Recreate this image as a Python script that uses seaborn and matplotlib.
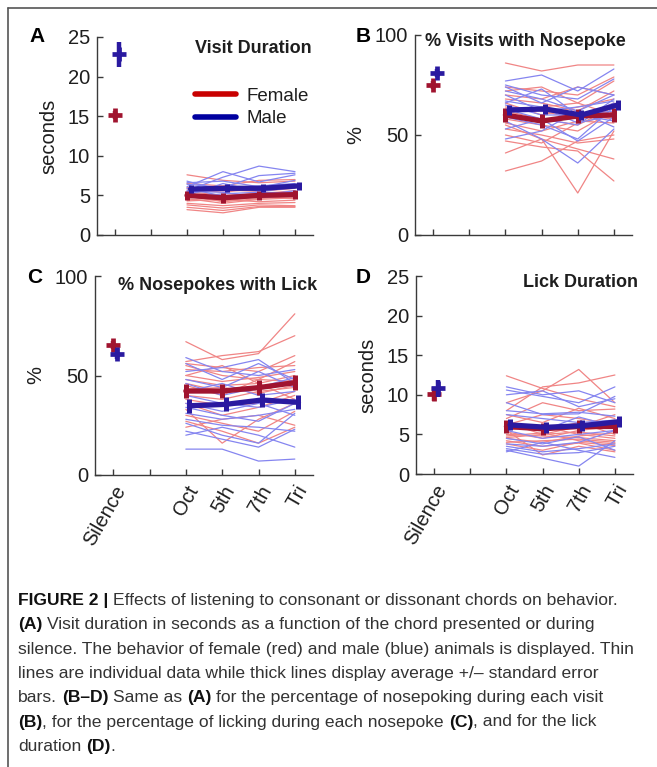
import numpy as np
import pandas as pd
import matplotlib
matplotlib.use("Agg")
import matplotlib.pyplot as plt
import seaborn as sns
from matplotlib.lines import Line2D

# categories on the x axis (position 2 is an empty gap)
x_pos = [1, 2, 3, 4, 5, 6]
x_labels = ["Silence", "", "Oct", "5th", "7th", "Tri"]
chord_x = [3, 4, 5, 6]

# ---- A: visit duration (s)
female_thin_a = [
    [7.6, 6.9, 6.6, 6.8], [6.5, 6.2, 6.9, 7.0], [5.8, 5.4, 5.9, 6.1],
    [5.5, 5.0, 5.2, 5.6], [5.2, 4.6, 5.0, 5.3], [4.9, 4.3, 4.8, 4.6],
    [4.6, 4.0, 4.5, 4.7], [4.3, 4.5, 4.2, 4.4], [4.0, 3.7, 4.0, 4.1],
    [3.8, 3.4, 3.8, 3.7], [3.5, 3.1, 3.6, 3.6], [3.2, 2.8, 3.5, 3.5],
    [6.0, 5.7, 5.5, 5.9], [4.4, 4.8, 5.3, 5.0], [5.0, 4.2, 4.6, 4.9],
]
male_thin_a = [
    [6.1, 8.0, 6.7, 7.6], [5.6, 7.3, 8.7, 8.0], [6.4, 6.0, 7.5, 7.8],
    [5.3, 5.8, 6.2, 6.5], [5.0, 6.5, 5.5, 6.0], [6.8, 5.6, 6.0, 6.9],
    [4.8, 5.2, 5.4, 5.3], [5.9, 4.9, 5.0, 5.6], [5.5, 5.4, 4.7, 5.1],
    [6.6, 6.8, 6.1, 6.4],
]
female_mean_a = [5.0, 4.7, 5.0, 5.1]
female_se_a = [0.6, 0.6, 0.6, 0.6]
male_mean_a = [5.8, 5.9, 5.9, 6.2]
male_se_a = [0.5, 0.5, 0.5, 0.5]
female_sil_a = [15.15, 0.5]
male_sil_a = [22.8, 1.55]

# ---- B: % visits with nosepoke
female_thin_b = [
    [86, 82, 85, 85], [74, 72, 70, 79], [72, 74, 66, 77], [70, 68, 74, 70],
    [68, 66, 62, 72], [66, 60, 64, 68], [64, 62, 58, 66], [62, 58, 55, 64],
    [60, 56, 60, 58], [58, 55, 52, 62], [56, 52, 57, 56], [55, 48, 21, 52],
    [53, 50, 46, 48], [50, 46, 56, 60], [47, 44, 42, 27], [41, 48, 43, 38],
    [32, 37, 47, 50], [62, 64, 66, 60],
]
male_thin_b = [
    [77, 80, 72, 83], [75, 70, 68, 78], [74, 66, 74, 70], [72, 68, 62, 70],
    [70, 62, 64, 67], [67, 64, 58, 66], [65, 60, 60, 62], [63, 58, 55, 68],
    [61, 64, 56, 60], [59, 55, 48, 64], [57, 48, 36, 53], [53, 58, 47, 59],
    [48, 52, 62, 54], [66, 73, 60, 57],
]
female_mean_b = [60, 57, 59.5, 60]
female_se_b = [3.5, 3.5, 3.5, 3.5]
male_mean_b = [62.5, 63, 60, 65]
male_se_b = [2.5, 2.5, 2.5, 2.5]
female_sil_b = [75, 2.0]
male_sil_b = [81, 2.0]

# ---- C: % nosepokes with lick
female_thin_c = [
    [67, 58, 61, 81], [57, 60, 62, 70], [56, 54, 52, 60], [55, 50, 48, 57],
    [53, 52, 54, 55], [50, 47, 49, 52], [48, 45, 46, 50], [46, 42, 44, 48],
    [45, 40, 48, 47], [43, 44, 41, 45], [40, 38, 42, 44], [38, 35, 36, 42],
    [36, 30, 34, 40], [33, 16, 28, 36], [30, 26, 22, 32], [27, 22, 16, 24],
    [24, 28, 30, 25], [50, 55, 46, 38],
]
male_thin_c = [
    [59, 52, 50, 53], [56, 48, 56, 48], [52, 54, 58, 46], [48, 44, 52, 44],
    [46, 40, 44, 49], [42, 46, 40, 42], [40, 36, 34, 38], [36, 32, 36, 30],
    [34, 30, 27, 36], [31, 28, 30, 33], [28, 25, 24, 22], [26, 20, 16, 31],
    [22, 18, 14, 23], [13, 13, 7, 8], [20, 24, 20, 14],
]
female_mean_c = [42.2, 42.2, 43.9, 46.4]
female_se_c = [3.7, 3.7, 3.7, 3.7]
male_mean_c = [34.8, 35.5, 37.7, 36.5]
male_se_c = [3.5, 3.5, 3.5, 3.5]
female_sil_c = [65.3, 2.0]
male_sil_c = [60.8, 2.5]

# ---- D: lick duration (s)
female_thin_d = [
    [12.4, 10.8, 9.5, 8.5], [9.0, 10.5, 13.2, 9.0], [8.0, 11.0, 11.5, 12.5],
    [7.5, 6.5, 8.3, 7.0], [7.0, 9.0, 8.0, 8.2], [6.5, 5.0, 6.0, 7.5],
    [6.0, 5.5, 6.5, 5.0], [5.6, 6.0, 5.0, 4.5], [5.3, 4.5, 5.5, 6.0],
    [5.0, 4.8, 4.6, 4.2], [4.8, 5.2, 4.2, 3.8], [4.5, 4.0, 4.8, 5.2],
    [4.2, 3.5, 3.9, 3.0], [4.0, 4.2, 4.4, 4.0], [3.8, 3.0, 4.0, 3.6],
    [5.5, 2.4, 3.5, 2.8], [4.6, 5.0, 5.3, 4.8], [6.2, 7.5, 7.0, 6.3],
]
male_thin_d = [
    [11.0, 10.0, 10.5, 9.0], [10.6, 9.8, 9.0, 11.0], [10.0, 10.5, 8.5, 9.5],
    [9.0, 7.5, 7.6, 9.8], [8.0, 7.6, 7.8, 7.3], [7.5, 7.0, 6.5, 6.8],
    [6.5, 5.5, 7.2, 6.0], [5.5, 4.5, 5.0, 5.5], [3.8, 3.5, 4.0, 5.5],
    [3.5, 2.8, 3.2, 3.8], [3.2, 2.5, 2.7, 3.5], [3.0, 2.0, 1.0, 4.2],
    [2.8, 4.0, 3.0, 2.1], [4.5, 3.8, 4.7, 3.0],
]
female_mean_d = [6.0, 5.7, 6.0, 6.0]
female_se_d = [0.8, 0.8, 0.8, 0.8]
male_mean_d = [6.2, 5.9, 6.1, 6.6]
male_se_d = [0.7, 0.7, 0.7, 0.7]
female_sil_d = [10.06, 0.9]
male_sil_d = [10.8, 1.05]

THIN_RED = "#f08585"
THIN_BLUE = "#8585f0"
MEAN_RED = "#a0142f"
MEAN_BLUE = "#2a1aa0"
LEG_RED = "#c80000"
LEG_BLUE = "#0000a0"
TXT = "#1e1e1e"

W, H = 657, 767
sns.set_style("ticks")
plt.rcParams["font.family"] = ["Liberation Sans", "DejaVu Sans"]

fig = plt.figure(figsize=(W / 100, H / 100), dpi=100)


def px_axes(left, top, right, bottom):
    return fig.add_axes([left / W, 1 - bottom / H, (right - left) / W, (bottom - top) / H])


def thin_frame(female, male):
    rows = []
    for i, vals in enumerate(female):
        for x, v in zip(chord_x, vals):
            rows.append(("F", "F%d" % i, x, v))
    for i, vals in enumerate(male):
        for x, v in zip(chord_x, vals):
            rows.append(("M", "M%d" % i, x, v))
    return pd.DataFrame(rows, columns=["sex", "animal", "x", "value"])


def panel(ax, female, male, fmean, fse, mmean, mse, fsil, msil, ymax, yticks, ylabel):
    df = thin_frame(female, male)
    sns.lineplot(data=df, x="x", y="value", hue="sex", units="animal", estimator=None,
                 palette={"F": THIN_RED, "M": THIN_BLUE}, hue_order=["F", "M"],
                 linewidth=0.9, legend=False, ax=ax)
    # group means +/- s.e.m., males shifted slightly right
    ax.errorbar(chord_x, fmean, yerr=fse, color=MEAN_RED, lw=3.8, elinewidth=3.6,
                capsize=0, zorder=5)
    ax.errorbar([x + 0.1 for x in chord_x], mmean, yerr=mse, color=MEAN_BLUE, lw=3.8,
                elinewidth=3.6, capsize=0, zorder=6)
    ax.errorbar([1], [fsil[0]], yerr=[fsil[1]], color=MEAN_RED, marker="+", ms=10.5,
                mew=3.4, elinewidth=3.2, capsize=0, ls="none", zorder=5)
    ax.errorbar([1.1], [msil[0]], yerr=[msil[1]], color=MEAN_BLUE, marker="+", ms=10.5,
                mew=3.4, elinewidth=3.2, capsize=0, ls="none", zorder=6)
    ax.set_xlim(0.5, 6.5)
    ax.set_ylim(0, ymax)
    ax.set_yticks(yticks)
    ax.set_xticks(x_pos)
    ax.set_xticklabels(x_labels, rotation=60, ha="right", rotation_mode="anchor")
    ax.set_xlabel("")
    ax.set_ylabel(ylabel, fontsize=14.5, color=TXT, labelpad=7)
    sns.despine(ax=ax)
    for s in ("left", "bottom"):
        ax.spines[s].set_color("#3a3a3a")
        ax.spines[s].set_linewidth(1.0)
    ax.tick_params(direction="in", length=4, width=1, labelsize=14.5, colors="#3a3a3a",
                   labelcolor=TXT, pad=5)


ax_a = px_axes(97, 37, 313, 235)
ax_b = px_axes(415, 35, 632, 235)
ax_c = px_axes(95, 276, 313, 475)
ax_d = px_axes(416, 276, 633, 474)

panel(ax_a, female_thin_a, male_thin_a, female_mean_a, female_se_a, male_mean_a, male_se_a,
      female_sil_a, male_sil_a, 25, [0, 5, 10, 15, 20, 25], "seconds")
panel(ax_b, female_thin_b, male_thin_b, female_mean_b, female_se_b, male_mean_b, male_se_b,
      female_sil_b, male_sil_b, 100, [0, 50, 100], "%")
panel(ax_c, female_thin_c, male_thin_c, female_mean_c, female_se_c, male_mean_c, male_se_c,
      female_sil_c, male_sil_c, 100, [0, 50, 100], "%")
panel(ax_d, female_thin_d, male_thin_d, female_mean_d, female_se_d, male_mean_d, male_se_d,
      female_sil_d, male_sil_d, 25, [0, 5, 10, 15, 20, 25], "seconds")

# only the bottom row shows category names
for ax in (ax_a, ax_b):
    ax.set_xticklabels([])

# panel titles
ax_a.text(0.995, 0.94, "Visit Duration", transform=ax_a.transAxes, ha="right", va="center",
          fontsize=13, fontweight="bold", color=TXT)
ax_b.text(0.972, 0.965, "% Visits with Nosepoke", transform=ax_b.transAxes, ha="right",
          va="center", fontsize=13, fontweight="bold", color=TXT)
ax_c.text(1.018, 0.95, "% Nosepokes with Lick", transform=ax_c.transAxes, ha="right",
          va="center", fontsize=13, fontweight="bold", color=TXT)
ax_d.text(1.023, 0.967, "Lick Duration", transform=ax_d.transAxes, ha="right", va="center",
          fontsize=13, fontweight="bold", color=TXT)

# legend
handles = [Line2D([], [], color=LEG_RED, lw=4), Line2D([], [], color=LEG_BLUE, lw=4)]
ax_a.legend(handles, ["Female", "Male"], loc="upper left", bbox_to_anchor=(0.454, 0.745),
            frameon=False, fontsize=13.5, handlelength=2.2, handletextpad=0.55,
            labelspacing=0.3, borderpad=0, borderaxespad=0, labelcolor=TXT)

# panel letters
for letter, (lx, ly) in zip("ABCD", [(37, 36), (363, 37), (35, 277), (363, 277)]):
    fig.text(lx / W, 1 - ly / H, letter, ha="center", va="center", fontsize=15,
             fontweight="bold", color="black")

# frame lines (top and left)
fig.add_artist(Line2D([8 / W, 1.0], [1 - 8 / H, 1 - 8 / H], color="#555555", lw=1.2))
fig.add_artist(Line2D([8 / W, 8 / W], [0, 1 - 8 / H], color="#555555", lw=1.2))

# caption with mixed bold runs
caption = [
    [("FIGURE 2 |", True), (" Effects of listening to consonant or dissonant chords on behavior.", False)],
    [("(A)", True), (" Visit duration in seconds as a function of the chord presented or during", False)],
    [("silence. The behavior of female (red) and male (blue) animals is displayed. Thin", False)],
    [("lines are individual data while thick lines display average +/\u2013 standard error", False)],
    [("bars. ", False), ("(B\u2013D)", True), (" Same as ", False), ("(A)", True),
     (" for the percentage of nosepoking during each visit", False)],
    [("(B)", True), (", for the percentage of licking during each nosepoke ", False), ("(C)", True),
     (", and for the lick", False)],
    [("duration ", False), ("(D)", True), (".", False)],
]
cap_family = ["Liberation Sans Narrow", "Liberation Sans", "DejaVu Sans"]
renderer = fig.canvas.get_renderer()


def width_of(s, size, bold):
    t = fig.text(0, 0, s, fontsize=size, fontweight="bold" if bold else "normal",
                 family=cap_family)
    w = t.get_window_extent(renderer).width
    t.remove()
    return w


def run_width(s, size, bold):
    # count edge spaces explicitly, since glyph boxes drop them
    core = s.strip(" ")
    n_sp = len(s) - len(s.lstrip(" ")) + len(s) - len(s.rstrip(" "))
    sp = width_of("x x", size, bold) - width_of("xx", size, bold)
    return (width_of(core, size, bold) if core else 0) + n_sp * sp, core, len(s) - len(s.lstrip(" "))


cap_size = 12.6
line1_w = sum(run_width(s, cap_size, b)[0] for s, b in caption[0])
if line1_w > 630:
    cap_size *= 630 / line1_w

y0 = 605
for i, line in enumerate(caption):
    x = 18.0
    for s, bold in line:
        w, core, lead = run_width(s, cap_size, bold)
        sp = width_of("x x", cap_size, bold) - width_of("xx", cap_size, bold)
        if core:
            fig.text((x + lead * sp) / W, 1 - (y0 + i * 24.3) / H, core, fontsize=cap_size,
                     fontweight="bold" if bold else "normal", family=cap_family,
                     color="#111111" if bold else "#333333", ha="left", va="baseline")
        x += w

fig.savefig("out.png", dpi=100)
